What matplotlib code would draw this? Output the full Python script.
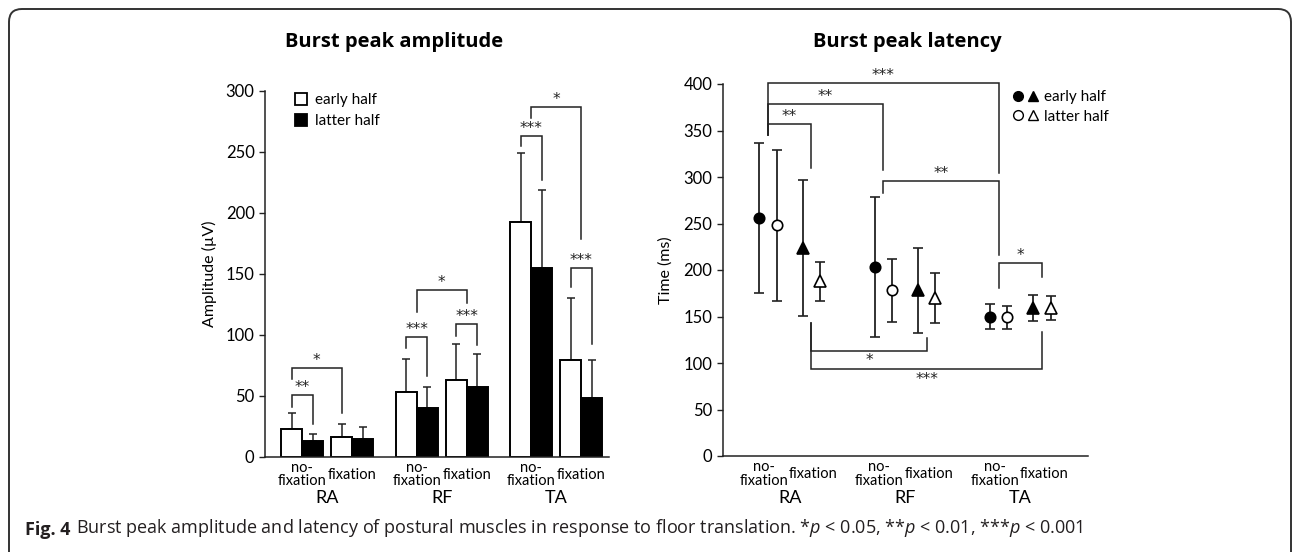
import numpy as np
import matplotlib
matplotlib.use("Agg")
import matplotlib.pyplot as plt
from matplotlib.lines import Line2D
from matplotlib.legend_handler import HandlerTuple
from matplotlib.patches import FancyBboxPatch

plt.rcParams['font.family'] = ['Lato', 'DejaVu Sans']
plt.rcParams['mathtext.fontset'] = 'custom'
plt.rcParams['mathtext.rm'] = 'Open Sans'
plt.rcParams['mathtext.it'] = 'Open Sans:italic'
plt.rcParams['mathtext.bf'] = 'Open Sans:bold'

muscles = ["RA", "RF", "TA"]
cond_labels = ["no-\nfixation", "fixation"]

# burst peak amplitude (uV), mean and SD
amp_early_nofix = [23, 53, 192]
amp_early_nofix_sd = [13, 27, 57]
amp_latter_nofix = [12.5, 40, 155]
amp_latter_nofix_sd = [6, 17, 64]
amp_early_fix = [16, 63, 79]
amp_early_fix_sd = [11, 29, 51]
amp_latter_fix = [14.5, 57, 48]
amp_latter_fix_sd = [10, 27.5, 31]

# burst peak latency (ms), mean and SD
lat_early_nofix = [256, 203, 150]
lat_early_nofix_sd = [81, 75, 13]
lat_latter_nofix = [248, 178, 149]
lat_latter_nofix_sd = [81, 34, 12]
lat_early_fix = [224, 178, 159]
lat_early_fix_sd = [73, 46, 14]
lat_latter_fix = [188, 170, 159]
lat_latter_fix_sd = [21, 27, 13]

# significance brackets: (from, to, left leg bottom, top, right leg bottom, label)
# anchors are (muscle, condition, 'e'arly / 'l'atter / 'g'roup)
amp_brackets = [
    ((0, 0, 'e'), (0, 0, 'l'), 41, 50.5, 27, '**'),
    ((0, 0, 'e'), (0, 1, 'e'), 63.5, 73, 36, '*'),
    ((1, 0, 'e'), (1, 0, 'l'), 88.7, 98.3, 66.3, '***'),
    ((1, 1, 'e'), (1, 1, 'l'), 99, 109, 91.2, '***'),
    ((1, 0, 'g'), (1, 1, 'g'), 119, 137, 126, '*'),
    ((2, 0, 'e'), (2, 0, 'l'), 254.4, 263, 226.8, '***'),
    ((2, 1, 'e'), (2, 1, 'l'), 138.8, 154.6, 92.3, '***'),
    ((2, 0, 'g'), (2, 1, 'g'), 278, 287, 178.4, '*'),
]
lat_brackets = [
    ((0, 0, 'g'), (2, 0, 'g'), 345, 400.7, 304.6, '***'),
    ((0, 0, 'g'), (1, 0, 'g'), 345, 378, 307.5, '**'),
    ((0, 0, 'g'), (0, 1, 'g'), 345, 356.6, 309.3, '**'),
    ((1, 0, 'g'), (2, 0, 'g'), 283, 296, 216, '**'),
    ((2, 0, 'g'), (2, 1, 'g'), 180.3, 207.9, 192.8, '*'),
    ((0, 1, 'g'), (1, 1, 'g'), 142.7, 113.3, 126.5, '*'),
    ((0, 1, 'g'), (2, 1, 'g'), 142.7, 93.2, 133.7, '***'),
]

ink = '#222222'


def draw_bracket(ax, x1, x2, y1, top, y2, label):
    ax.plot([x1, x1, x2, x2], [y1, top, top, y2], color=ink, lw=1.1,
            solid_joinstyle='miter', clip_on=False)
    below = top < min(y1, y2)
    ax.annotate(label, xy=((x1 + x2) / 2, top), xytext=(0, -2 if below else 0),
                textcoords='offset points', ha='center', va='top' if below else 'bottom',
                fontsize=11, family='DejaVu Sans', color=ink, annotation_clip=False)


fig = plt.figure(figsize=(12.92, 5.52), dpi=100)

# outer frame
frame = FancyBboxPatch((9 / 1292, -0.2), 1282 / 1292, 1.2 - 9 / 552,
                       boxstyle="round,pad=0,rounding_size=0.01",
                       mutation_aspect=1292 / 552, transform=fig.transFigure,
                       fill=False, ec='#333333', lw=1.4)
fig.patches.append(frame)

# ---------- amplitude ----------
ax1 = fig.add_axes([265 / 1292, 95.3 / 552, 344 / 1292, 366 / 552])
bw = 21
n = len(muscles)
centers = np.array([[37 + m * 114.7 + f * 50 for f in range(2)] for m in range(n)])

ax1.bar(centers[:, 0] - bw / 2, amp_early_nofix, bw, color='white', edgecolor='black', lw=1.4, zorder=2)
ax1.bar(centers[:, 0] + bw / 2, amp_latter_nofix, bw, color='black', edgecolor='black', lw=1.4, zorder=2)
ax1.bar(centers[:, 1] - bw / 2, amp_early_fix, bw, color='white', edgecolor='black', lw=1.4, zorder=2)
ax1.bar(centers[:, 1] + bw / 2, amp_latter_fix, bw, color='black', edgecolor='black', lw=1.4, zorder=2)

for xs, ys, sd in [(centers[:, 0] - bw / 2, amp_early_nofix, amp_early_nofix_sd),
                   (centers[:, 0] + bw / 2, amp_latter_nofix, amp_latter_nofix_sd),
                   (centers[:, 1] - bw / 2, amp_early_fix, amp_early_fix_sd),
                   (centers[:, 1] + bw / 2, amp_latter_fix, amp_latter_fix_sd)]:
    ax1.errorbar(xs, ys, yerr=[np.zeros(n), sd], fmt='none', ecolor=ink, elinewidth=1.1,
                 capsize=3, capthick=1.1, zorder=1)


def amp_x(a):
    m, c, w = a
    return centers[m, c] + {'e': -bw / 2, 'l': bw / 2, 'g': 0}[w]


for a1, a2, y1, top, y2, lab in amp_brackets:
    draw_bracket(ax1, amp_x(a1), amp_x(a2), y1, top, y2, lab)

ax1.set_xlim(0, 344)
ax1.set_ylim(0, 300)
ax1.set_yticks(np.arange(0, 301, 50))
ax1.set_xticks(centers.flatten())
ax1.set_xticklabels(cond_labels * n, fontsize=10.5, va='center', linespacing=0.95)
ax1.tick_params(axis='x', length=0, pad=13)
ax1.tick_params(axis='y', labelsize=12, length=4, width=1, color=ink, direction='out')
ax1.set_ylabel('Amplitude (µV)', fontsize=11.5, labelpad=6)
for m, name in enumerate(muscles):
    ax1.annotate(name, xy=(centers[m].mean(), 0), xycoords=('data', 'axes fraction'),
                 xytext=(0, -30), textcoords='offset points', ha='center', va='center', fontsize=13)
for s in ['top', 'right']:
    ax1.spines[s].set_visible(False)
for s in ['left', 'bottom']:
    ax1.spines[s].set_color(ink)
    ax1.spines[s].set_linewidth(1.1)

h_early = Line2D([], [], marker='s', ls='none', mfc='white', mec='black', mew=1.3, ms=9)
h_latter = Line2D([], [], marker='s', ls='none', mfc='black', mec='black', mew=1.3, ms=9)
ax1.legend([h_early, h_latter], ['early half', 'latter half'], loc='upper left',
           bbox_to_anchor=(0.048, 1.03), frameon=False, fontsize=11,
           handlelength=0.8, handletextpad=0.5, labelspacing=0.45)
fig.text(394 / 1292, 1 - 42 / 552, 'Burst peak amplitude', family='Open Sans',
         weight='bold', fontsize=14.5, ha='center', va='center')

# ---------- latency ----------
ax2 = fig.add_axes([722.7 / 1292, 96 / 552, 365.3 / 1292, 372 / 552])
offs = [0, 17.4, 43.4, 60.7]
base = np.array([36.6 + m * 115.3 for m in range(n)])
gcent = np.stack([base + (offs[0] + offs[1]) / 2, base + (offs[2] + offs[3]) / 2], axis=1)

series = [
    (offs[0], lat_early_nofix, lat_early_nofix_sd, 'o', 'black', 7.5),
    (offs[1], lat_latter_nofix, lat_latter_nofix_sd, 'o', 'white', 7.5),
    (offs[2], lat_early_fix, lat_early_fix_sd, '^', 'black', 8.5),
    (offs[3], lat_latter_fix, lat_latter_fix_sd, '^', 'white', 8.5),
]
for off, ys, sd, mk, fc, ms in series:
    ax2.errorbar(base + off, ys, yerr=sd, fmt=mk, mfc=fc, mec='black', mew=1.2, ms=ms,
                 ecolor=ink, elinewidth=1.3, capsize=3.5, capthick=1.2, zorder=3)


def lat_x(a):
    m, c, w = a
    return gcent[m, c]


for a1, a2, y1, top, y2, lab in lat_brackets:
    draw_bracket(ax2, lat_x(a1), lat_x(a2), y1, top, y2, lab)

ax2.set_xlim(0, 365.3)
ax2.set_ylim(0, 400)
ax2.set_yticks(np.arange(0, 401, 50))
# labels sit a little wider apart than the marker pairs
ax2.set_xticks(np.stack([gcent[:, 0] - 4, gcent[:, 1] + 2], axis=1).flatten())
ax2.set_xticklabels(cond_labels * n, fontsize=10.5, va='center', linespacing=0.95)
ax2.tick_params(axis='x', length=0, pad=13)
ax2.tick_params(axis='y', labelsize=12, length=4, width=1, color=ink, direction='out')
ax2.set_ylabel('Time (ms)', fontsize=11.5, labelpad=8)
for m, name in enumerate(muscles):
    ax2.annotate(name, xy=(gcent[m].mean(), 0), xycoords=('data', 'axes fraction'),
                 xytext=(0, -30), textcoords='offset points', ha='center', va='center', fontsize=13)
for s in ['top', 'right']:
    ax2.spines[s].set_visible(False)
for s in ['left', 'bottom']:
    ax2.spines[s].set_color(ink)
    ax2.spines[s].set_linewidth(1.1)

fc_ = Line2D([], [], marker='o', ls='none', mfc='black', mec='black', ms=7)
ft_ = Line2D([], [], marker='^', ls='none', mfc='black', mec='black', ms=7)
oc_ = Line2D([], [], marker='o', ls='none', mfc='white', mec='black', ms=7)
ot_ = Line2D([], [], marker='^', ls='none', mfc='white', mec='black', ms=7)
ax2.legend([(fc_, ft_), (oc_, ot_)], ['early half', 'latter half'], loc='upper left',
           bbox_to_anchor=(0.758, 1.02), frameon=False, fontsize=11,
           handler_map={tuple: HandlerTuple(ndivide=None, pad=0.4)},
           handlelength=1.6, handletextpad=0.4, labelspacing=0.35)
fig.text(907 / 1292, 1 - 42 / 552, 'Burst peak latency', family='Open Sans',
         weight='bold', fontsize=14.5, ha='center', va='center')

# caption
cap_head = fig.text(25 / 1292, 1 - 539 / 552, 'Fig. 4', family='Open Sans', weight='bold',
                    fontsize=13, color='#231f20', ha='left', va='bottom')
ax1.annotate(r'Burst peak amplitude and latency of postural muscles in response '
             r'to floor translation. *$p$ < 0.05, **$p$ < 0.01, ***$p$ < 0.001',
             xy=(1, 0), xycoords=cap_head, xytext=(4, 0), textcoords='offset points',
             family='Open Sans', fontsize=13, color='#231f20', ha='left', va='bottom',
             annotation_clip=False)

fig.savefig('out.png', dpi=100)
